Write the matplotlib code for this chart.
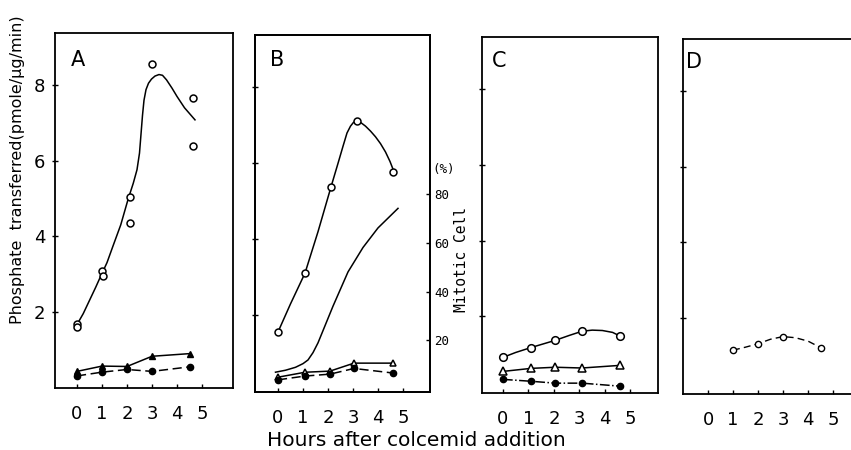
import matplotlib
matplotlib.use("Agg")
import matplotlib.pyplot as plt

W, H = 851, 450

# ---------------- data ----------------
# Panel A
A_open_x = [0, 0, 1, 1.05, 2.1, 2.1, 3.0, 4.65, 4.65]
A_open_y = [1.68, 1.6, 3.08, 2.95, 5.05, 4.34, 8.55, 7.66, 6.4]
A_curve_x = [0, 0.25, 0.5, 0.75, 0.92, 1.2, 1.44, 1.75, 2.04, 2.25, 2.4, 2.5, 2.56, 2.62, 2.68,
             2.76, 2.86, 2.98, 3.12, 3.28, 3.42, 3.58, 3.8, 4.0, 4.3, 4.72]
A_curve_y = [1.66, 1.95, 2.3, 2.65, 2.9, 3.3, 3.74, 4.3, 4.97, 5.4, 5.76, 6.2, 6.7, 7.2, 7.6,
             7.88, 8.05, 8.16, 8.24, 8.28, 8.26, 8.14, 7.92, 7.7, 7.4, 7.08]
A_low_x = [0, 1, 2, 3, 4.5]
A_tri_y = [0.42, 0.56, 0.55, 0.82, 0.89]
A_fill_y = [0.3, 0.4, 0.47, 0.42, 0.54]

# Panel B
B_open_x = [0, 1.08, 2.12, 3.16, 4.6]
B_open_y = [1.56, 3.11, 5.38, 7.12, 5.78]
B_curve_x = [0, 0.5, 1.08, 1.6, 2.12, 2.4, 2.6, 2.76, 2.9, 3.02, 3.16, 3.3, 3.5, 3.7,
             3.9, 4.1, 4.3, 4.48, 4.64]
B_curve_y = [1.56, 2.3, 3.11, 4.2, 5.38, 6.0, 6.45, 6.8, 6.98, 7.08, 7.12, 7.08, 6.98, 6.85,
             6.7, 6.52, 6.3, 6.05, 5.78]
B_low_x = [0, 1.08, 2.08, 3.04, 4.6]
B_tri_y = [0.37, 0.5, 0.53, 0.74, 0.74]
B_fill_y = [0.3, 0.4, 0.45, 0.6, 0.48]
mit_x = [-0.1, 0.3, 0.7, 1.0, 1.2, 1.4, 1.6, 1.8, 2.0, 2.2, 2.5, 2.8, 3.1, 3.4, 3.7,
         4.0, 4.3, 4.6, 4.8]
mit_y = [7, 7.8, 9, 10.5, 12, 15, 19, 24, 29, 34, 41, 48, 53, 58, 62, 66, 69, 72, 74]

# Panel C
C_x = [0, 1.1, 2.05, 3.1, 4.6]
C_open_y = [0.92, 1.18, 1.37, 1.61, 1.48]
C_curve_x = [0, 0.5, 1.1, 1.6, 2.05, 2.6, 3.1, 3.5, 3.9, 4.3, 4.6]
C_curve_y = [0.92, 1.05, 1.18, 1.28, 1.37, 1.5, 1.61, 1.64, 1.63, 1.58, 1.48]
C_tri_y = [0.55, 0.63, 0.66, 0.64, 0.71]
C_fill_y = [0.34, 0.29, 0.24, 0.24, 0.16]

# Panel D
D_x = [1, 2, 3, 4.5]
D_open_y = [1.14, 1.31, 1.5, 1.21]
D_curve_x = [1, 1.5, 2, 2.5, 3, 3.5, 4, 4.5]
D_curve_y = [1.14, 1.22, 1.31, 1.43, 1.5, 1.47, 1.38, 1.21]

xticks = [0, 1, 2, 3, 4, 5]
yticks = [2, 4, 6, 8]
ytick_labels = ["2", "4", "6", "8"]
mit_ticks = [20, 40, 60, 80]
panel_letters = ["A", "B", "C", "D"]

# ---------------- figure ----------------
plt.rcParams['font.family'] = ['DejaVu Sans']
fig = plt.figure(figsize=(W / 100, H / 100), dpi=100)


def add_ax(l, t, r, b):
    return fig.add_axes([l / W, 1 - b / H, (r - l) / W, (b - t) / H])


boxes = [(55, 33, 233, 388), (255, 35, 430, 392), (482, 37, 658, 393), (683, 39, 875, 394)]
xlims = [(-0.88, 6.24), (-0.92, 6.08), (-0.82, 6.08), (-1.0, 6.68)]
axes = []
for i, (bx, xl) in enumerate(zip(boxes, xlims)):
    ax = add_ax(*bx)
    ax.set_xlim(*xl)
    ax.set_ylim(-0.02, 9.38)
    ax.set_xticks(xticks)
    ax.set_xticklabels([str(t) for t in xticks])
    ax.set_yticks(yticks)
    if i == 0:
        ax.set_yticklabels(ytick_labels)
    else:
        ax.set_yticklabels([])
    ax.tick_params(axis='x', direction='in', length=3, width=1, pad=12, labelsize=13)
    ax.tick_params(axis='y', direction='inout', length=4, width=1, pad=5, labelsize=13)
    for s in ax.spines.values():
        s.set_linewidth(1.3)
    axes.append(ax)

lw = 1.1
k = 'black'
axA, axB, axC, axD = axes

# A
axA.plot(A_curve_x, A_curve_y, color=k, lw=lw)
axA.plot(A_open_x, A_open_y, 'o', mfc='white', mec=k, ms=5, mew=1.1, ls='none')
axA.plot(A_low_x, A_tri_y, '-^', color=k, lw=lw, ms=5)
axA.plot(A_low_x, A_fill_y, '--o', color=k, lw=lw, ms=4.5, dashes=(6, 3))

# B
axB.plot(B_curve_x, B_curve_y, color=k, lw=lw)
axB.plot(B_open_x, B_open_y, 'o', mfc='white', mec=k, ms=5, mew=1.1, ls='none')
axB.plot(B_low_x, B_tri_y, '-^', color=k, lw=lw, ms=5, mfc='white', mew=1.1)
axB.plot(B_low_x, B_fill_y, '--o', color=k, lw=lw, ms=4.5, dashes=(6, 3))
axB2 = axB.twinx()
axB2.set_ylim(-1.1, 144.9)
axB2.plot(mit_x, mit_y, color=k, lw=lw)
axB2.set_yticks(mit_ticks)
axB2.set_yticklabels([str(t) for t in mit_ticks], family='DejaVu Sans Mono', fontsize=9)
axB2.tick_params(axis='y', direction='in', length=3, width=1, pad=3)
for s in axB2.spines.values():
    s.set_linewidth(1.3)

# C
axC.plot(C_curve_x, C_curve_y, color=k, lw=lw)
axC.plot(C_x, C_open_y, 'o', mfc='white', mec=k, ms=5.5, mew=1.1, ls='none')
axC.plot(C_x, C_tri_y, '-^', color=k, lw=lw, ms=5.5, mfc='white', mew=1.1)
axC.plot(C_x, C_fill_y, '-.o', color=k, lw=lw, ms=4.5)

# D
axD.plot(D_curve_x, D_curve_y, color=k, lw=1.0, dashes=(5, 3))
axD.plot(D_x, D_open_y, 'o', mfc='white', mec=k, ms=4.5, mew=1.0, ls='none')

# panel letters
letter_pos = [(71, 50), (270, 50), (492, 51), (686, 52)]
for L, (px, py) in zip(panel_letters, letter_pos):
    fig.text(px / W, 1 - py / H, L, fontsize=15, ha='left', va='top')

# labels
fig.text(18 / W, 1 - 170 / H, "Phosphate  transferred(pmole/\u03bcg/min)",
         rotation=90, ha='center', va='center', fontsize=11.5)
fig.text(416 / W, 1 - 441 / H, "Hours after colcemid addition",
         ha='center', va='center', fontsize=14.5)
fig.text(444 / W, 1 - 170 / H, "(%)", family='DejaVu Sans Mono', fontsize=9,
         ha='center', va='center')
fig.text(461 / W, 1 - 260 / H, "Mitotic Cell", family='DejaVu Sans Mono',
         fontsize=10.5, rotation=90, ha='center', va='center')

fig.savefig("out.png", dpi=100)
